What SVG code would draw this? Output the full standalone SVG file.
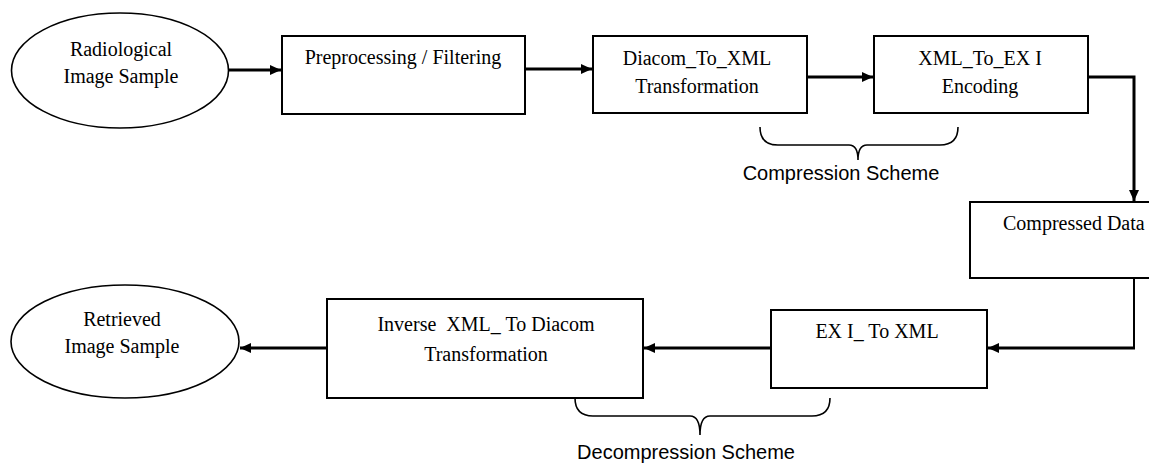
<svg xmlns="http://www.w3.org/2000/svg" width="1149" height="463" viewBox="0 0 1149 463">
<defs>
<style>
.box{fill:#fff;stroke:#000;stroke-width:2}
.ell{fill:#fff;stroke:#000;stroke-width:1.6}
.t{font-family:"Liberation Serif","Times New Roman",serif;font-size:20px;fill:#000;text-anchor:middle;white-space:pre}
.s{font-family:"Liberation Sans",Arial,sans-serif;font-size:20px;fill:#000;text-anchor:middle}
.c{fill:none;stroke:#000;stroke-width:3}
.c2{fill:none;stroke:#000;stroke-width:2}
.br{fill:none;stroke:#000;stroke-width:1.6}
</style>
<marker id="ah" markerUnits="userSpaceOnUse" markerWidth="12" markerHeight="12" refX="11" refY="6" orient="auto">
<path d="M0,1 L11,6 L0,11 Z" fill="#000"/>
</marker>
</defs>
<rect width="1149" height="463" fill="#fff"/>
<g id="connectors">
<path class="c" d="M228,70 L281,70" marker-end="url(#ah)"/>
<path class="c" d="M525,69 L592,69" marker-end="url(#ah)"/>
<path class="c" d="M807,77 L873,77" marker-end="url(#ah)"/>
<path class="c" d="M1088,77 L1134,77 L1134,201" marker-end="url(#ah)"/>
<path class="c2" d="M1134,278 L1134,348"/>
<path class="c" d="M1135,348 L988,348" marker-end="url(#ah)"/>
<path class="c" d="M771,348 L644,348" marker-end="url(#ah)"/>
<path class="c" d="M327,348 L240,348" marker-end="url(#ah)"/>
</g>
<g id="radiological">
<ellipse class="ell" cx="120" cy="70.5" rx="108.5" ry="57.5"/>
<text class="t" x="121" y="56">Radiological</text>
<text class="t" x="121" y="83">Image Sample</text>
</g>
<g id="preprocessing">
<rect class="box" x="282" y="36" width="243" height="78"/>
<text class="t" x="403" y="64">Preprocessing / Filtering</text>
</g>
<g id="diacom-to-xml">
<rect class="box" x="593" y="36" width="214" height="77"/>
<text class="t" x="697" y="65">Diacom_To_XML</text>
<text class="t" x="697" y="93">Transformation</text>
</g>
<g id="xml-to-exi">
<rect class="box" x="874" y="36" width="214" height="77"/>
<text class="t" x="980" y="65">XML_To_EX I</text>
<text class="t" x="980" y="93">Encoding</text>
</g>
<g id="compression-scheme">
<path class="br" d="M760,127 Q760,145 778,145 L849,145 Q858,145 858,160 Q858,145 867,145 L940,145 Q958,145 958,127"/>
<text class="s" x="841" y="180">Compression Scheme</text>
</g>
<g id="compressed-data">
<rect class="box" x="970" y="202" width="200" height="76"/>
<text class="t" x="1003" y="230" style="text-anchor:start">Compressed Data</text>
</g>
<g id="exi-to-xml">
<rect class="box" x="771" y="310" width="216" height="78"/>
<text class="t" x="877" y="338">EX I_ To XML</text>
</g>
<g id="inverse">
<rect class="box" x="327" y="299" width="316" height="99"/>
<text class="t" x="486" y="331">Inverse  XML_ To Diacom</text>
<text class="t" x="486" y="361">Transformation</text>
</g>
<g id="decompression-scheme">
<path class="br" d="M575,398 Q575,416 593,416 L690,416 Q700,416 700,435 Q700,416 710,416 L812,416 Q830,416 830,398"/>
<text class="s" x="686" y="459">Decompression Scheme</text>
</g>
<g id="retrieved">
<ellipse class="ell" cx="125" cy="341.5" rx="114" ry="56.5"/>
<text class="t" x="122" y="326">Retrieved</text>
<text class="t" x="122" y="353">Image Sample</text>
</g>
</svg>
